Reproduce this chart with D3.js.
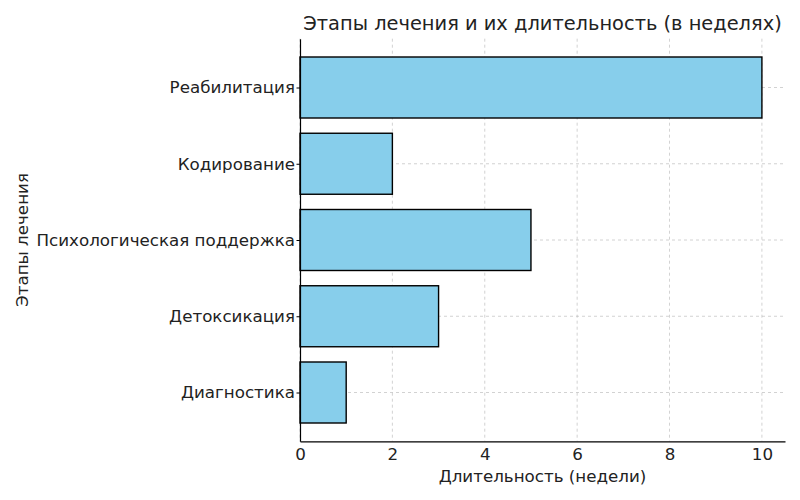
<!DOCTYPE html>
<html><head><meta charset="utf-8">
<script src="https://cdn.jsdelivr.net/npm/d3@7"></script>
<style>body{margin:0;background:#fff}svg{font-family:"DejaVu Sans",sans-serif}</style>
</head><body><svg id="c" width="800" height="500"></svg>
<script>
const categories = ["Диагностика","Детоксикация","Психологическая поддержка","Кодирование","Реабилитация"];
const values = [1,3,5,2,10];
const xTicks = [0,2,4,6,8,10];
const title = "Этапы лечения и их длительность (в неделях)";
const xLabel = "Длительность (недели)";
const yLabel = "Этапы лечения";

const svg = d3.select("#c");
const L=300,R=785,T=38.7,B=441.3;
const FS=16.7;
const x = d3.scaleLinear().domain([0,10.5]).range([L,R]);
const y = d3.scaleLinear().domain([-0.64,4.64]).range([B,T]);
const bh = (y(0)-y(0.8));

// grid
svg.append("g").selectAll("line").data(xTicks).join("line")
 .attr("x1",d=>x(d)).attr("x2",d=>x(d)).attr("y1",T).attr("y2",B)
 .attr("stroke","#b0b0b0").attr("stroke-width",0.8).attr("stroke-dasharray","3,3").attr("opacity",0.7);
svg.append("g").selectAll("line").data(categories).join("line")
 .attr("y1",(d,i)=>y(i)).attr("y2",(d,i)=>y(i)).attr("x1",L).attr("x2",R)
 .attr("stroke","#b0b0b0").attr("stroke-width",0.8).attr("stroke-dasharray","3,3").attr("opacity",0.7);

// bars
svg.append("g").selectAll("rect").data(values).join("rect")
 .attr("x",x(0)).attr("y",(d,i)=>y(i+0.4)).attr("width",d=>x(d)-x(0)).attr("height",bh)
 .attr("fill","#87ceeb").attr("stroke","#000").attr("stroke-width",1.4);

// axes
const xa = d3.axisBottom(x).tickValues(xTicks).tickSize(0).tickPadding(7).tickFormat(d3.format("d"));
const gx = svg.append("g").attr("transform",`translate(0,${B})`).call(xa);
gx.select(".domain").attr("stroke","#000").attr("stroke-width",1.2);
gx.selectAll("text").attr("font-size",FS).attr("fill","#222").attr("font-family","DejaVu Sans");

const ya = d3.axisLeft(y).tickValues(d3.range(categories.length)).tickFormat(i=>categories[i]).tickSize(3.5).tickPadding(1.5).tickSizeOuter(0);
const gy = svg.append("g").attr("transform",`translate(${L},0)`).call(ya);
gy.select(".domain").attr("stroke","#000").attr("stroke-width",1.2);
gy.selectAll("text").attr("font-size",FS).attr("fill","#222").attr("font-family","DejaVu Sans");
gy.selectAll(".tick line").attr("stroke","#000");

svg.append("text").attr("x",(L+R)/2).attr("y",30).attr("text-anchor","middle")
 .attr("font-size",19.4).attr("fill","#222").text(title);
svg.append("text").attr("x",(L+R)/2).attr("y",482).attr("text-anchor","middle")
 .attr("font-size",FS).attr("fill","#222").text(xLabel);
svg.append("text").attr("transform",`translate(28,${(T+B)/2}) rotate(-90)`).attr("text-anchor","middle")
 .attr("font-size",FS).attr("fill","#222").text(yLabel);
</script></body></html>
